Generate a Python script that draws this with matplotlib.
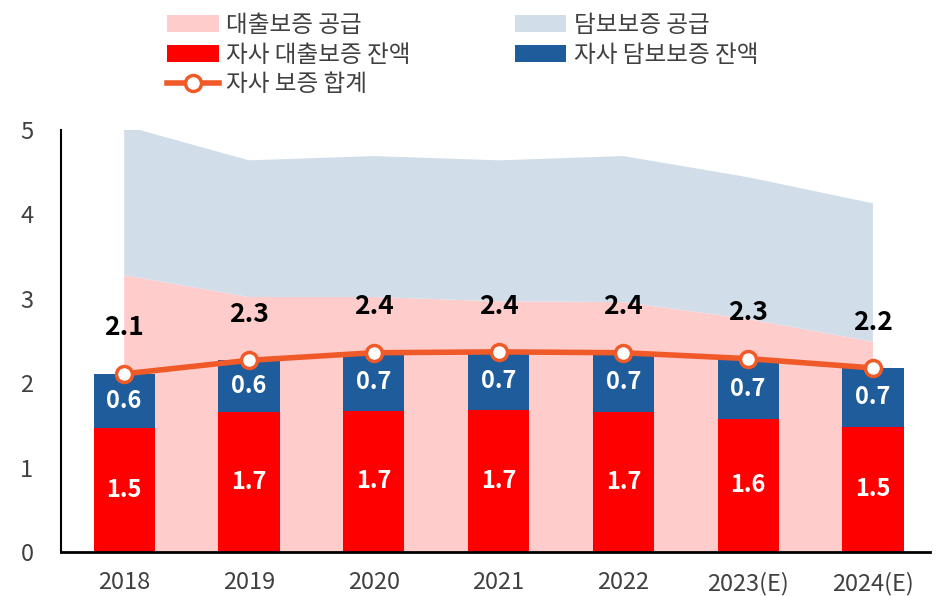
import matplotlib
matplotlib.use("Agg")
import matplotlib.pyplot as plt
import numpy as np

plt.rcParams['font.family'] = ['Noto Sans CJK KR', 'DejaVu Sans']

years = ['2018', '2019', '2020', '2021', '2022', '2023(E)', '2024(E)']
loan_supply = [3.28, 3.02, 3.02, 2.97, 2.96, 2.76, 2.49]
coll_supply = [1.77, 1.62, 1.67, 1.67, 1.73, 1.68, 1.64]
own_loan = [1.47, 1.66, 1.67, 1.68, 1.66, 1.58, 1.48]
own_coll = [0.64, 0.61, 0.69, 0.69, 0.70, 0.71, 0.70]
total = [2.11, 2.27, 2.36, 2.37, 2.36, 2.29, 2.18]

x = np.arange(len(years))

fig = plt.figure(figsize=(9.41, 5.96), dpi=100)
ax = fig.add_axes([0.065, 0.074, 0.923, 0.708])

st = ax.stackplot(x, loan_supply, coll_supply, colors=['#FFCCCC', '#D1DEEA'], zorder=1)
b1 = ax.bar(x, own_loan, width=0.49, color='#FF0000', zorder=2)
b2 = ax.bar(x, own_coll, width=0.49, bottom=own_loan, color='#1F5C9B', zorder=2)
ln, = ax.plot(x, total, color='#F05A28', lw=4, marker='o', ms=11.5,
              mfc='white', mec='#F05A28', mew=2.5, zorder=3)

for i in range(len(x)):
    ax.text(x[i], own_loan[i] / 2, f"{own_loan[i]:.1f}", ha='center', va='center',
            color='white', fontsize=17, fontweight='bold', zorder=4)
    ax.text(x[i], own_loan[i] + own_coll[i] / 2, f"{own_coll[i]:.1f}", ha='center',
            va='center', color='white', fontsize=17, fontweight='bold', zorder=4)
    ax.annotate(f"{total[i]:.1f}", (x[i], total[i]), xytext=(0, 33),
                textcoords='offset points', ha='center', va='center',
                fontsize=19, fontweight='bold', color='black', zorder=4)

ax.set_xlim(-0.505, 6.455)
ax.set_ylim(0, 5)
ax.set_yticks([0, 1, 2, 3, 4, 5])
ax.set_xticks(x)
ax.set_xticklabels(years)
ax.tick_params(axis='both', length=0, labelsize=17, labelcolor='#404040')
ax.tick_params(axis='x', pad=14)
ax.tick_params(axis='y', pad=20)
ax.spines['top'].set_visible(False)
ax.spines['right'].set_visible(False)
ax.spines['left'].set_color('black')
ax.spines['left'].set_linewidth(1.5)
ax.spines['bottom'].set_color('black')
ax.spines['bottom'].set_linewidth(2)

handles = [st[0], b1, ln, st[1], b2]
labels = ['대출보증 공급', '자사 대출보증 잔액', '자사 보증 합계', '담보보증 공급', '자사 담보보증 잔액']
fig.legend(handles, labels, ncol=2, loc='upper left', bbox_to_anchor=(0.155, 1.012),
           frameon=False, fontsize=17, handlelength=2.2, handleheight=0.72,
           columnspacing=4.4, labelspacing=0.28, handletextpad=0.3,
           labelcolor='#404040')

fig.savefig('out.png', dpi=100)
